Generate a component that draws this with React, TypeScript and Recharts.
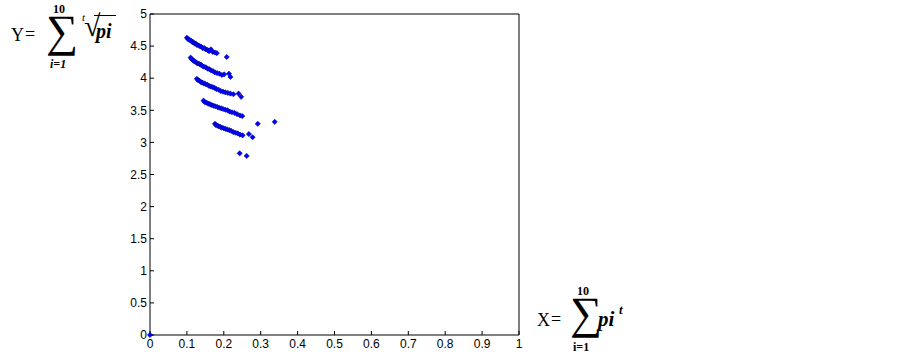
import React from 'react';
import { ScatterChart, Scatter, XAxis, YAxis } from 'recharts';

// each row is [X, Y]
const band1: [number, number][] = [
  [0.100, 4.63], [0.103, 4.61], [0.106, 4.60], [0.109, 4.59], [0.112, 4.58], [0.115, 4.56],
  [0.118, 4.56], [0.121, 4.54], [0.124, 4.54], [0.127, 4.52], [0.131, 4.51], [0.135, 4.50],
  [0.139, 4.49], [0.143, 4.47], [0.147, 4.47], [0.151, 4.45], [0.156, 4.44], [0.160, 4.42],
  [0.165, 4.45], [0.170, 4.41], [0.176, 4.40], [0.181, 4.39], [0.208, 4.33],
];
const band2: [number, number][] = [
  [0.110, 4.32], [0.113, 4.30], [0.116, 4.28], [0.119, 4.27], [0.122, 4.26], [0.126, 4.24],
  [0.130, 4.23], [0.134, 4.22], [0.138, 4.21], [0.142, 4.19], [0.146, 4.18], [0.151, 4.17],
  [0.156, 4.15], [0.161, 4.14], [0.166, 4.12], [0.171, 4.11], [0.176, 4.09], [0.182, 4.08],
  [0.188, 4.07], [0.195, 4.05], [0.201, 4.06], [0.214, 4.07], [0.218, 4.02],
];
const band3: [number, number][] = [
  [0.127, 3.99], [0.130, 3.97], [0.134, 3.96], [0.138, 3.94], [0.142, 3.93], [0.146, 3.92],
  [0.150, 3.91], [0.155, 3.90], [0.160, 3.88], [0.165, 3.87], [0.170, 3.86], [0.175, 3.85],
  [0.180, 3.83], [0.186, 3.82], [0.192, 3.80], [0.198, 3.79], [0.204, 3.78], [0.211, 3.77],
  [0.218, 3.76], [0.226, 3.75], [0.240, 3.76], [0.247, 3.71],
];
const band4: [number, number][] = [
  [0.145, 3.65], [0.148, 3.63], [0.152, 3.62], [0.156, 3.61], [0.160, 3.60], [0.164, 3.59],
  [0.168, 3.58], [0.173, 3.57], [0.178, 3.56], [0.183, 3.55], [0.188, 3.54], [0.193, 3.53],
  [0.198, 3.52], [0.204, 3.51], [0.210, 3.50], [0.216, 3.48], [0.222, 3.47], [0.229, 3.46],
  [0.236, 3.44], [0.244, 3.42], [0.250, 3.41], [0.292, 3.29], [0.338, 3.32],
];
const band5: [number, number][] = [
  [0.176, 3.29], [0.179, 3.27], [0.183, 3.26], [0.187, 3.25], [0.191, 3.24], [0.195, 3.23],
  [0.200, 3.22], [0.205, 3.21], [0.210, 3.20], [0.215, 3.19], [0.220, 3.18], [0.226, 3.16],
  [0.232, 3.15], [0.238, 3.14], [0.244, 3.12], [0.251, 3.11], [0.268, 3.13], [0.278, 3.08],
  [0.243, 2.83], [0.262, 2.79],
];
const origin: [number, number][] = [[0, 0]];

const xTicks = [0, 0.1, 0.2, 0.3, 0.4, 0.5, 0.6, 0.7, 0.8, 0.9, 1];
const yTicks = [0, 0.5, 1, 1.5, 2, 2.5, 3, 3.5, 4, 4.5, 5];

const points = [...band1, ...band2, ...band3, ...band4, ...band5, ...origin].map(([x, y]) => ({ x, y }));
const framePoints = origin.map(([x, y]) => ({ x, y }));

const tickFont = { fontSize: 12, fill: '#000', fontFamily: 'Liberation Sans, Arial, sans-serif' };

const Diamond = (props: any) => {
  const { cx, cy } = props;
  const r = 2.6;
  return (
    <polygon
      points={`${cx},${cy - r} ${cx + r},${cy} ${cx},${cy + r} ${cx - r},${cy}`}
      fill="#0000ff"
      stroke="#00009a"
      strokeWidth={0.6}
    />
  );
};

const Nothing = () => <g />;

const serif = 'Liberation Serif, "Times New Roman", serif';

const abs = (left: number, top: number, extra: React.CSSProperties = {}): React.CSSProperties => ({
  position: 'absolute',
  left,
  top,
  lineHeight: 1,
  fontFamily: serif,
  color: '#000',
  whiteSpace: 'nowrap',
  ...extra,
});

export default function App() {
  return (
    <div style={{ position: 'absolute', left: 0, top: 0, width: 903, height: 361, background: '#fff' }}>
      <ScatterChart width={903} height={361} margin={{ top: 13, right: 383, bottom: 0, left: 0 }}>
        <XAxis
          type="number"
          dataKey="x"
          domain={[0, 1]}
          ticks={xTicks}
          tick={tickFont}
          tickSize={-4}
          tickMargin={8}
          height={26}
          stroke="#000"
          interval={0}
        />
        <XAxis
          xAxisId="top"
          orientation="top"
          type="number"
          dataKey="x"
          domain={[0, 1]}
          ticks={xTicks}
          tick={false}
          tickSize={-4}
          height={1}
          stroke="#000"
          interval={0}
        />
        <YAxis
          type="number"
          dataKey="y"
          domain={[0, 5]}
          ticks={yTicks}
          tick={tickFont}
          tickSize={-4}
          tickMargin={7}
          width={150}
          stroke="#000"
          interval={0}
        />
        <YAxis
          yAxisId="right"
          orientation="right"
          type="number"
          dataKey="y"
          domain={[0, 5]}
          ticks={yTicks}
          tick={false}
          tickSize={-4}
          width={1}
          stroke="#000"
          interval={0}
        />
        <Scatter data={points} shape={Diamond} isAnimationActive={false} />
        <Scatter data={framePoints} xAxisId="top" yAxisId="right" shape={Nothing} isAnimationActive={false} />
      </ScatterChart>

      {/* Y formula */}
      <span style={abs(11, 26, { fontSize: 18 })}>Y</span>
      <span style={abs(25, 25, { fontSize: 18 })}>=</span>
      <span style={abs(53, 3, { fontSize: 12, fontWeight: 'bold' })}>10</span>
      <span style={abs(46, 9, { fontSize: 45 })}>∑</span>
      <span style={abs(50, 58, { fontSize: 12, fontWeight: 'bold', fontStyle: 'italic' })}>i=1</span>
      <span style={abs(82, 12, { fontSize: 11, fontStyle: 'italic' })}>t</span>
      <span style={abs(84, 11, { fontSize: 30 })}>√</span>
      <div style={{ position: 'absolute', left: 94, top: 15, width: 22, borderTop: '1.5px solid #000' }} />
      <span style={abs(96, 21, { fontSize: 20, fontWeight: 'bold', fontStyle: 'italic' })}>pi</span>

      {/* X formula */}
      <span style={abs(537, 311, { fontSize: 18 })}>X</span>
      <span style={abs(551, 310, { fontSize: 18 })}>=</span>
      <span style={abs(577, 285, { fontSize: 12, fontWeight: 'bold' })}>10</span>
      <span style={abs(570, 291, { fontSize: 45 })}>∑</span>
      <span style={abs(573, 341, { fontSize: 12, fontWeight: 'bold' })}>i=1</span>
      <span style={abs(598, 309, { fontSize: 21, fontWeight: 'bold', fontStyle: 'italic' })}>pi</span>
      <span style={abs(619, 303, { fontSize: 13, fontWeight: 'bold', fontStyle: 'italic' })}>t</span>
    </div>
  );
}
